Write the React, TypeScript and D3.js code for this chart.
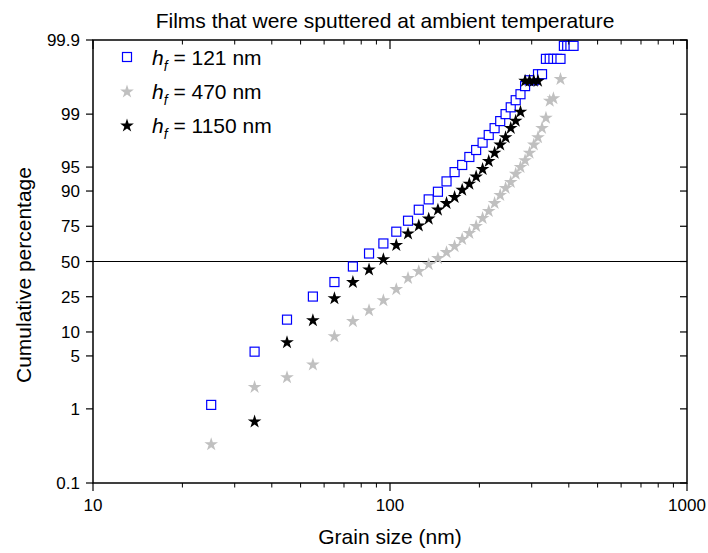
import React from "react";
import * as d3 from "d3";

const title = "Films that were sputtered at ambient temperature";
const xLabel = "Grain size (nm)";
const yLabel = "Cumulative percentage";
const yTicks = [0.1, 1, 5, 10, 25, 50, 75, 90, 95, 99, 99.9];
const xTicks = [10, 100, 1000];

const sizesA = [25, 35, 45, 55, 65, 75, 85, 95, 105, 115, 125, 135, 145, 155, 165, 175, 185, 195, 205, 215, 225, 235, 245, 255, 265, 275, 285, 295, 305, 315, 325, 335, 345, 355, 365, 375, 385, 395, 405, 415];
const pctA = [1.13, 5.67, 14.03, 25.1, 34.5, 46.1, 56.2, 63.7, 71.7, 78.1, 83.4, 87.4, 89.8, 92.4, 94.2, 95.3, 96.3, 97.0, 97.6, 98.1, 98.46, 98.76, 99.0, 99.19, 99.35, 99.46, 99.58, 99.65, 99.65, 99.71, 99.71, 99.82, 99.82, 99.82, 99.82, 99.82, 99.88, 99.88, 99.88, 99.88];

const sizesB = [25, 35, 45, 55, 65, 75, 85, 95, 105, 115, 125, 135, 145, 155, 165, 175, 185, 195, 205, 215, 225, 235, 245, 255, 265, 275, 285, 295, 305, 315, 325, 335, 345, 355, 375];
const pctB = [0.34, 2.0, 2.68, 3.95, 9.0, 13.7, 18.2, 23.3, 30.1, 37.8, 43.0, 48.4, 53.1, 57.7, 62.2, 67.2, 71.2, 75.5, 79.8, 83.1, 86.3, 89.0, 91.0, 92.4, 94.0, 95.1, 96.0, 96.8, 97.5, 98.0, 98.5, 98.9, 99.35, 99.4, 99.67];

const sizesC = [35, 45, 55, 65, 75, 85, 95, 105, 115, 125, 135, 145, 155, 165, 175, 185, 195, 205, 215, 225, 235, 245, 255, 265, 275, 285, 295, 305, 315];
const pctC = [0.69, 7.6, 14.0, 24.5, 34.9, 44.2, 52.3, 63.0, 70.9, 75.8, 79.5, 83.7, 86.3, 88.4, 90.5, 92.0, 93.5, 94.8, 95.9, 96.8, 97.5, 98.0, 98.5, 98.8, 99.09, 99.65, 99.65, 99.65, 99.65];

const series = [
  { name: "121 nm", sizes: sizesA, pct: pctA, color: "#0000ff", shape: "square" },
  { name: "470 nm", sizes: sizesB, pct: pctB, color: "#c0c0c0", shape: "star" },
  { name: "1150 nm", sizes: sizesC, pct: pctC, color: "#000000", shape: "star" },
];

const W = 708, H = 553;
const L = 93, R = 687, T = 40, B = 483;
const logit = (p: number) => Math.log(p / (100 - p));

const x = d3.scaleLog().domain([10, 1000]).range([L, R]);
const y = d3.scaleLinear().domain([logit(0.1), logit(99.9)]).range([B, T]);

const starPath = d3.symbol().type(d3.symbolStar).size(58)() as string;

function Marker({ shape, color, cx, cy }: any) {
  if (shape === "square") {
    return <rect x={cx - 4.5} y={cy - 4.5} width={9} height={9} fill="white" stroke={color} strokeWidth={1.2} />;
  }
  return <path d={starPath} transform={`translate(${cx},${cy + 0.8})`} fill={color} />;
}

export default function App() {
  const minor: number[] = [];
  for (const dec of [10, 100]) for (let k = 2; k <= 9; k++) minor.push(dec * k);
  const font = "Arial, 'Liberation Sans', sans-serif";
  return (
    <svg width={W} height={H} style={{ position: "absolute", left: 0, top: 0, background: "white" }} fontFamily={font}>
      <text x={385} y={28} fontSize={21} textAnchor="middle">{title}</text>
      <line x1={L} x2={R} y1={y(logit(50))} y2={y(logit(50))} stroke="black" strokeWidth={1} />
      {series.map((s, si) => (
        <g key={si}>
          {s.sizes.map((v, i) => (
            <Marker key={i} shape={s.shape} color={s.color} cx={x(v)} cy={y(logit(s.pct[i]))} />
          ))}
        </g>
      ))}
      <rect x={L} y={T} width={R - L} height={B - T} fill="none" stroke="black" strokeWidth={1.5} />
      {yTicks.map((t) => (
        <g key={t}>
          <line x1={L - 7} x2={L} y1={y(logit(t))} y2={y(logit(t))} stroke="black" strokeWidth={1.2} />
          <line x1={R} x2={R - 7} y1={y(logit(t))} y2={y(logit(t))} stroke="black" strokeWidth={1.2} />
          <text x={L - 13} y={y(logit(t)) + 6} fontSize={17} textAnchor="end">{t}</text>
        </g>
      ))}
      {xTicks.map((t) => (
        <g key={t}>
          <line x1={x(t)} x2={x(t)} y1={B} y2={B + 8} stroke="black" strokeWidth={1.2} />
          <line x1={x(t)} x2={x(t)} y1={T} y2={T + 9} stroke="black" strokeWidth={1.2} />
          <text x={x(t)} y={B + 28} fontSize={17} textAnchor="middle">{t}</text>
        </g>
      ))}
      {minor.map((t) => (
        <g key={t}>
          <line x1={x(t)} x2={x(t)} y1={B} y2={B + 4.5} stroke="black" strokeWidth={1} />
          <line x1={x(t)} x2={x(t)} y1={T} y2={T + 4.5} stroke="black" strokeWidth={1} />
        </g>
      ))}
      <text x={(L + R) / 2} y={544} fontSize={21} textAnchor="middle">{xLabel}</text>
      <text transform={`translate(31,275) rotate(-90)`} fontSize={21} textAnchor="middle">{yLabel}</text>
      {series.map((s, i) => (
        <g key={i} transform={`translate(0,${57 + i * 34})`}>
          <Marker shape={s.shape} color={s.color} cx={127} cy={0} />
          <text x={152} y={8} fontSize={21}>
            <tspan fontStyle="italic">h</tspan>
            <tspan fontStyle="italic" fontSize={14} dy={6}>f</tspan>
            <tspan dy={-6}> = {s.name}</tspan>
          </text>
        </g>
      ))}
    </svg>
  );
}
